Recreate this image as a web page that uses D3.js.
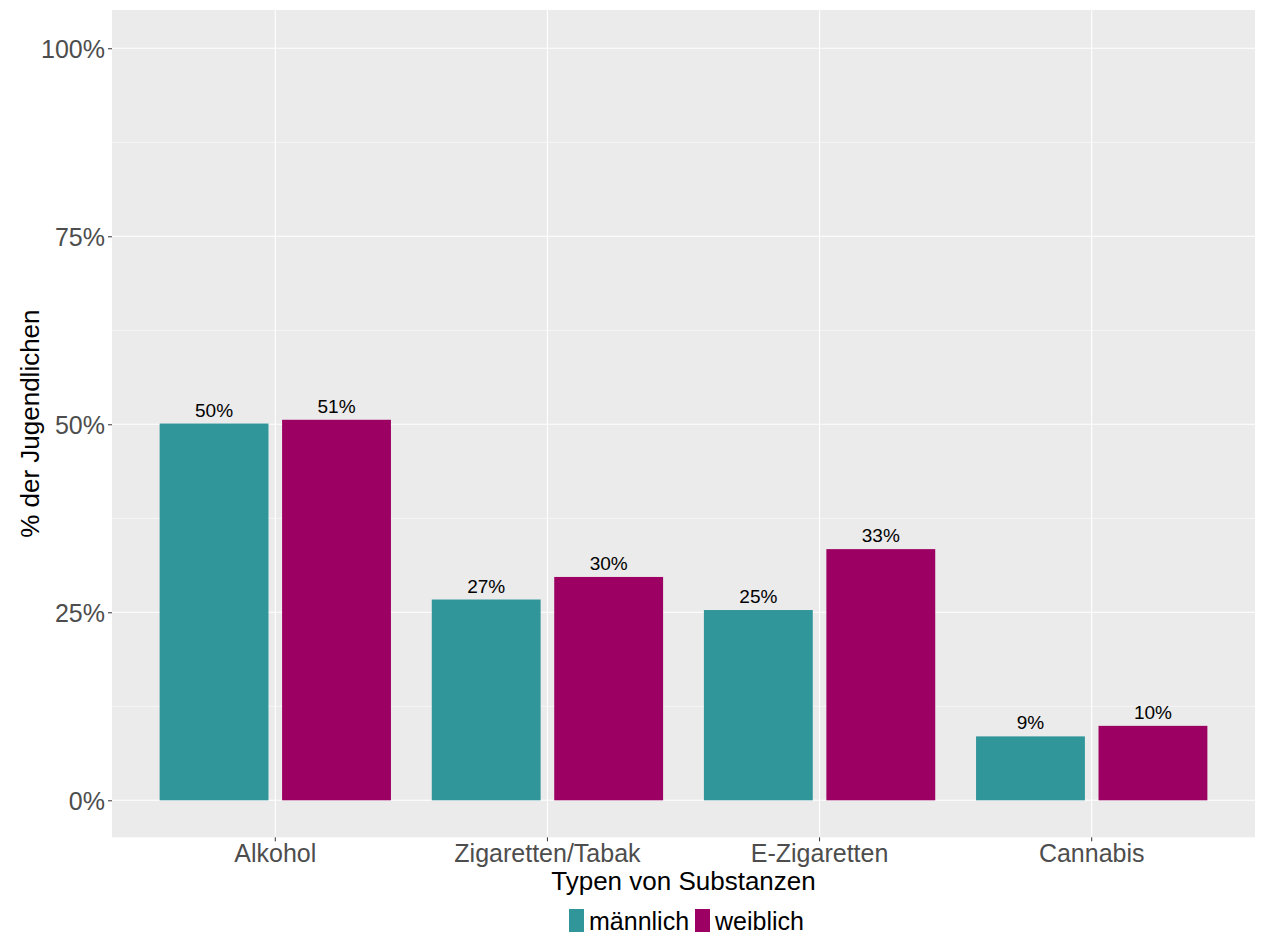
<!DOCTYPE html>
<html><head><meta charset="utf-8">
<script src="https://cdn.jsdelivr.net/npm/d3@7"></script>
<style>body{margin:0;background:#fff}text{font-family:"Liberation Sans",Arial,sans-serif}</style>
</head><body><svg id="c" width="1261" height="938"></svg>
<script>
const categories = ["Alkohol","Zigaretten/Tabak","E-Zigaretten","Cannabis"];
const groups = ["männlich","weiblich"];
const maleValues = [50.1, 26.7, 25.3, 8.5];
const femaleValues = [50.6, 29.7, 33.4, 9.9];
const yTicks = [0,25,50,75,100];
const colors = ["#31969a","#9c0062"];

const svg = d3.select("#c");
const L=112, R=1255, T=10, B=837.3;
const y = d3.scaleLinear().domain([-4.92,105.09]).range([B,T]);
const xc = d3.scaleLinear().domain([0.4, categories.length+0.6]).range([L,R]);

svg.append("rect").attr("x",L).attr("y",T).attr("width",R-L).attr("height",B-T).attr("fill","#ebebeb");
const minor = [12.5,37.5,62.5,87.5];
svg.selectAll(".mg").data(minor).enter().append("line")
  .attr("x1",L).attr("x2",R).attr("y1",d=>y(d)).attr("y2",d=>y(d))
  .attr("stroke","#fff").attr("stroke-width",0.6);
svg.selectAll(".gy").data(yTicks).enter().append("line")
  .attr("x1",L).attr("x2",R).attr("y1",d=>y(d)).attr("y2",d=>y(d))
  .attr("stroke","#fff").attr("stroke-width",1.1);
svg.selectAll(".gx").data(categories).enter().append("line")
  .attr("y1",T).attr("y2",B).attr("x1",(d,i)=>xc(i+1)).attr("x2",(d,i)=>xc(i+1))
  .attr("stroke","#fff").attr("stroke-width",1.1);

const series = [maleValues, femaleValues];
const barW = 0.4, dodge = 0.45;
series.forEach((vals,g)=>{
  const off = g===0 ? -dodge/2 : dodge/2;
  svg.selectAll(".b"+g).data(vals).enter().append("rect")
    .attr("x",(d,i)=>xc(i+1+off-barW/2))
    .attr("width",(d,i)=>xc(i+1+off+barW/2)-xc(i+1+off-barW/2))
    .attr("y",d=>y(d)).attr("height",d=>y(0)-y(d))
    .attr("fill",colors[g]);
  svg.selectAll(".l"+g).data(vals).enter().append("text")
    .attr("x",(d,i)=>xc(i+1+off)).attr("y",d=>y(d)-7)
    .attr("text-anchor","middle").attr("font-size",19).attr("fill","#000")
    .text(d=>Math.round(d)+"%");
});

const yAxis = d3.axisLeft(y).tickValues(yTicks).tickSize(4).tickPadding(3).tickFormat(d=>d+"%");
const ya = svg.append("g").attr("transform",`translate(${L},0)`).call(yAxis);
ya.select(".domain").remove();
ya.selectAll("line").attr("stroke","#333");
ya.selectAll("text").attr("font-size",25).attr("fill","#4d4d4d").attr("font-family","Liberation Sans, Arial, sans-serif").attr("dy","0.36em");

const xb = d3.scaleBand().domain(categories).range([xc(0.5),xc(categories.length+0.5)]);
const xAxis = d3.axisBottom(xb).tickSize(4).tickPadding(3);
const xa = svg.append("g").attr("transform",`translate(0,${B})`).call(xAxis);
xa.select(".domain").remove();
xa.selectAll("line").attr("stroke","#333");
xa.selectAll("text").attr("font-size",25).attr("fill","#4d4d4d").attr("font-family","Liberation Sans, Arial, sans-serif").attr("dy","0.71em");

svg.append("text").attr("x",(L+R)/2).attr("y",890).attr("text-anchor","middle")
  .attr("font-size",26).attr("fill","#000").text("Typen von Substanzen");
svg.append("text").attr("transform",`translate(39,${(T+B)/2}) rotate(-90)`).attr("text-anchor","middle")
  .attr("font-size",26).attr("fill","#000").text("% der Jugendlichen");

const legX = [569, 695];
groups.forEach((g,i)=>{
  svg.append("rect").attr("x",legX[i]).attr("y",909).attr("width",15).attr("height",23).attr("fill",colors[i]);
  svg.append("text").attr("x",legX[i]+20).attr("y",930).attr("font-size",25).attr("fill","#000").text(g);
});
</script></body></html>
